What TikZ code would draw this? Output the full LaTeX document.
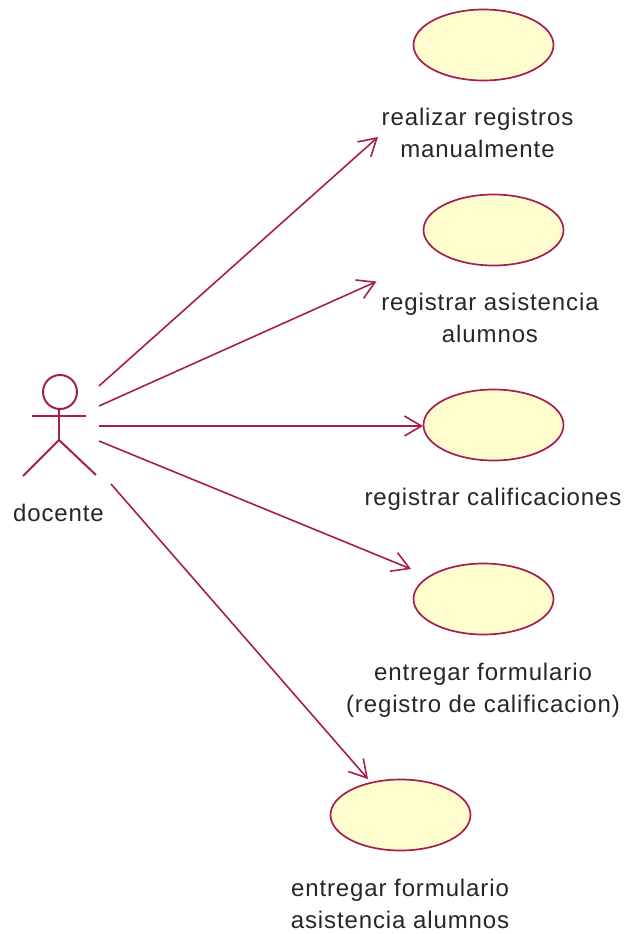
\documentclass[tikz,border=0pt]{standalone}
\usepackage{fontspec}
\setmainfont{Liberation Sans}[LetterSpace=3.7]
\usetikzlibrary{arrows.meta,shapes.geometric}
\definecolor{umlline}{RGB}{165,30,80}
\definecolor{umlfill}{RGB}{255,252,205}
\tikzset{
  usecase/.style={ellipse,draw=umlline,fill=umlfill,line width=1.7pt,minimum width=140pt,minimum height=71pt,inner sep=0pt},
  lbl/.style={font=\fontsize{24pt}{32pt}\selectfont,text=black!85,align=center,inner sep=0pt},
  assoc/.style={draw=umlline,line width=1.6pt,-{Straight Barb[length=17pt,width=20pt,line width=1.6pt]}},
  actorline/.style={draw=umlline,line width=2pt}
}
\begin{document}
\begin{tikzpicture}[x=1pt,y=-1pt]
\useasboundingbox (0,0) rectangle (624,934);
\node[usecase] (u1) at (483.5,45) {};
\node[usecase] (u2) at (493.5,230) {};
\node[usecase] (u3) at (493.5,425) {};
\node[usecase] (u4) at (483.5,599) {};
\node[usecase] (u5) at (400.5,815) {};
\node[lbl] (l1) at (477.5,133) {realizar registros\\manualmente};
\node[lbl] (l2) at (490,318) {registrar asistencia\\alumnos};
\node[lbl] (l3) at (493,499) {registrar calificaciones};
\node[lbl] (l4) at (483,690) {entregar formulario\\(registro de calificacion)};
\node[lbl] (l5) at (400,904) {entregar formulario\\asistencia alumnos};
\node[lbl] (actorname) at (58.5,513) {docente};
% actor
\node[circle,actorline,minimum size=34pt,inner sep=0pt] (head) at (60,392) {};
\coordinate (hip) at (59,440);
\coordinate (armL) at (32,416);
\coordinate (armR) at (86,416);
\coordinate (footL) at (23,476);
\coordinate (footR) at (96,475);
\draw[actorline] (head.south -| hip) -- (hip);
\draw[actorline] (armL) -- (armR);
\draw[actorline] (footL) -- (hip) -- (footR);
% associations
\coordinate (s1) at (99,386);
\coordinate (s2) at (99,406);
\coordinate (s3) at (99,426);
\coordinate (s4) at (99,441);
\coordinate (s5) at (111,484);
\coordinate (e1) at (378,137);
\coordinate (e2) at (376.5,281.5);
\coordinate (e3) at (423,426);
\coordinate (e4) at (411,569);
\coordinate (e5) at (368,779);
\draw[assoc] (s1) -- (e1);
\draw[assoc] (s2) -- (e2);
\draw[assoc] (s3) -- (e3);
\draw[assoc] (s4) -- (e4);
\draw[assoc] (s5) -- (e5);
\end{tikzpicture}
\end{document}
